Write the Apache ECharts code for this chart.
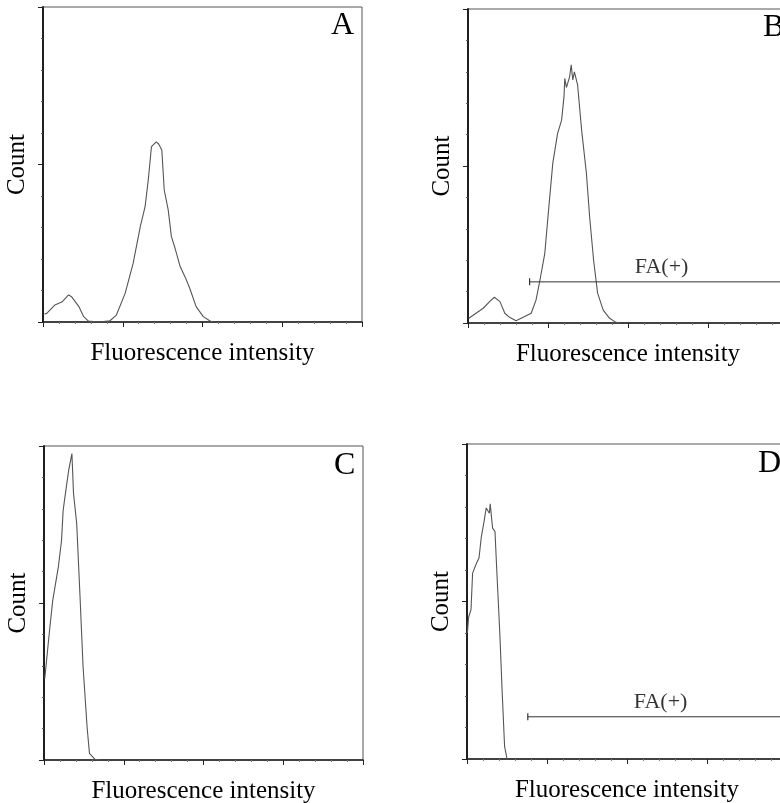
<!DOCTYPE html>
<html>
<head>
<meta charset="utf-8">
<script src="https://cdn.jsdelivr.net/npm/echarts@6/dist/echarts.min.js"></script>
<style>
  html, body { margin: 0; padding: 0; background: #ffffff; }
  #chart { width: 780px; height: 803px; }
</style>
</head>
<body>
<div id="chart"></div>
<script>
// histogram traces, [log intensity (decades), count]
const histA = [
  [0.02, 0.25], [0.05, 0.28], [0.15, 0.54], [0.24, 0.64], [0.32, 0.86], [0.36, 0.80],
  [0.45, 0.49], [0.51, 0.17], [0.57, 0.03], [0.70, 0], [0.84, 0.04], [0.92, 0.22],
  [1.03, 0.91], [1.13, 1.86], [1.22, 3.03], [1.28, 3.66], [1.32, 4.51], [1.36, 5.57],
  [1.42, 5.72], [1.45, 5.65], [1.49, 5.46], [1.52, 4.19], [1.57, 3.56], [1.61, 2.71],
  [1.65, 2.39], [1.72, 1.76], [1.78, 1.44], [1.84, 1.07], [1.92, 0.49], [2.01, 0.17],
  [2.09, 0.04], [2.13, 0]
];
const histB = [
  [0.01, 0.15], [0.10, 0.31], [0.19, 0.47], [0.27, 0.68], [0.33, 0.82], [0.40, 0.68],
  [0.46, 0.31], [0.52, 0.18], [0.60, 0.07], [0.69, 0.18], [0.79, 0.31], [0.85, 0.73],
  [0.90, 1.37], [0.96, 2.22], [1.00, 3.39], [1.06, 5.09], [1.12, 6.04], [1.17, 6.46],
  [1.20, 7.21], [1.21, 7.79], [1.23, 7.50], [1.27, 7.84], [1.29, 8.22], [1.31, 7.74],
  [1.33, 8.00], [1.37, 7.58], [1.42, 6.15], [1.48, 4.77], [1.52, 3.39], [1.57, 2.00],
  [1.62, 0.95], [1.69, 0.41], [1.77, 0.15], [1.85, 0.02], [1.90, 0]
];
const histC = [
  [0.01, 2.60], [0.07, 4.14], [0.11, 5.09], [0.18, 6.15], [0.22, 7.00], [0.24, 7.95],
  [0.28, 8.70], [0.31, 9.23], [0.33, 9.28], [0.35, 9.76], [0.37, 8.49], [0.41, 7.53],
  [0.45, 5.30], [0.49, 2.97], [0.54, 1.06], [0.57, 0.21], [0.64, 0.02], [0.70, 0]
];
const histD = [
  [0.005, 4.00], [0.02, 4.50], [0.05, 4.74], [0.07, 5.90], [0.12, 6.22], [0.15, 6.38],
  [0.18, 7.07], [0.21, 7.49], [0.24, 7.97], [0.28, 7.80], [0.29, 8.10], [0.32, 7.33],
  [0.35, 7.22], [0.37, 6.11], [0.41, 4.00], [0.44, 2.10], [0.47, 0.40], [0.50, 0]
];
// FA(+) gate markers for B and D: [start, end, level]
const gateB = [0.77, 4, 1.31];
const gateD = [0.76, 4, 1.34];
const gateLabelX = [2.42, 2.42];

const panelLetters = ['A', 'B', 'C', 'D'];
const serif = 'Liberation Serif, Times New Roman, serif';

const grids = [
  { left: 43, top: 7, width: 319, height: 315 },
  { left: 468, top: 9, width: 320, height: 314 },
  { left: 44, top: 446, width: 319, height: 314 },
  { left: 467, top: 444, width: 320, height: 315 }
];
const letterPos = [[331, 26], [763, 28], [334, 466], [758, 463.5]];

const chart = echarts.init(document.getElementById('chart'), null, { renderer: 'canvas' });

const xAxes = grids.map((g, i) => ({
  gridIndex: i,
  type: 'value',
  min: 0,
  max: 4,
  interval: 1,
  name: 'Fluorescence intensity',
  nameLocation: 'middle',
  nameGap: 19,
  nameTextStyle: { fontFamily: serif, fontSize: 25, color: '#000' },
  axisLine: { show: true, lineStyle: { color: '#222', width: 1.5 } },
  axisTick: { show: true, length: 5, lineStyle: { color: '#222' } },
  minorTick: { show: true, splitNumber: 5, length: 2, lineStyle: { color: '#777' } },
  axisLabel: { show: false },
  splitLine: { show: false }
}));

const yAxes = grids.map((g, i) => ({
  gridIndex: i,
  type: 'value',
  min: 0,
  max: 10,
  interval: 5,
  name: 'Count',
  nameLocation: 'middle',
  nameGap: 13,
  nameTextStyle: { fontFamily: serif, fontSize: 25, color: '#000' },
  axisLine: { show: true, lineStyle: { color: '#111', width: 1.8 } },
  axisTick: { show: true, length: 5, lineStyle: { color: '#222' } },
  minorTick: { show: true, splitNumber: 5, length: 2, lineStyle: { color: '#555' } },
  axisLabel: { show: false },
  splitLine: { show: false }
}));

const curveStyle = { color: '#555', width: 1.1 };
const hists = [histA, histB, histC, histD];

const series = hists.map((h, i) => ({
  type: 'line',
  xAxisIndex: i,
  yAxisIndex: i,
  data: h,
  showSymbol: false,
  lineStyle: curveStyle,
  silent: true
}));

[[1, gateB, gateLabelX[0]], [3, gateD, gateLabelX[1]]].forEach(([idx, gate, lx]) => {
  series.push({
    type: 'line',
    xAxisIndex: idx,
    yAxisIndex: idx,
    data: [
      { value: [gate[0], gate[2]], symbol: 'rect', symbolSize: [1.2, 7] },
      { value: [gate[1], gate[2]], symbol: 'none' }
    ],
    itemStyle: { color: '#333' },
    lineStyle: { color: '#333', width: 1 },
    silent: true
  });
  series.push({
    type: 'scatter',
    xAxisIndex: idx,
    yAxisIndex: idx,
    data: [[lx, gate[2]]],
    symbolSize: 0,
    label: {
      show: true,
      position: 'top',
      distance: 4,
      formatter: 'FA(+)',
      fontFamily: serif,
      fontSize: 22,
      color: '#000'
    },
    silent: true
  });
});

chart.setOption({
  animation: false,
  grid: grids.map(g => Object.assign({
    show: true,
    borderColor: '#555',
    borderWidth: 1,
    backgroundColor: 'transparent',
    outerBoundsMode: 'none'
  }, g)),
  xAxis: xAxes,
  yAxis: yAxes,
  graphic: panelLetters.map((t, i) => ({
    type: 'text',
    x: letterPos[i][0],
    y: letterPos[i][1],
    style: {
      text: t,
      fontFamily: serif,
      fontSize: 32,
      fill: '#000',
      textAlign: 'left',
      textVerticalAlign: 'middle'
    }
  })),
  series: series
});
</script>
</body>
</html>
